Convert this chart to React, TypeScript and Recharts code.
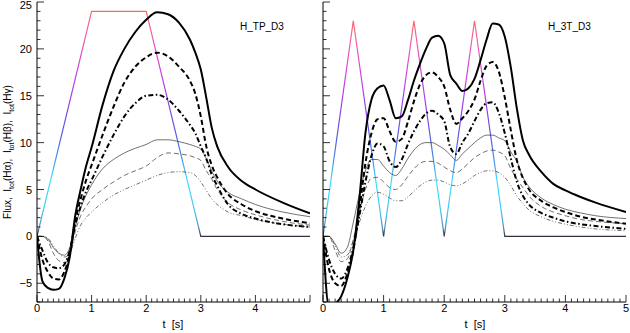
import React from 'react';
import { LineChart, Line, XAxis, YAxis } from 'recharts';

// time grid (s) and model curves
const timeLeft = [0, 0.1, 0.2, 0.3, 0.4, 0.5, 0.6, 0.7, 0.8, 0.9, 1.0, 1.2, 1.4, 1.6, 1.8, 2.0, 2.2, 2.4, 2.6, 2.8, 2.9, 3.0, 3.1, 3.2, 3.3, 3.5, 3.75, 4.0, 4.5, 5.0];
const haLeft = [0, -4.8, -5.5, -5.7, -5.6, -4.5, -2.2, 2.2, 5.0, 7.5, 9.5, 14.0, 17.6, 20.0, 21.8, 23.1, 23.9, 23.7, 22.8, 21.0, 19.6, 17.8, 14.8, 11.6, 9.6, 7.4, 5.9, 5.0, 3.6, 2.45];
const hbLeft = [0, -2.5, -3.8, -4.5, -4.6, -3.8, -1.8, 1.6, 4.0, 6.0, 7.6, 10.8, 13.8, 16.4, 18.1, 19.1, 19.6, 19.2, 18.1, 16.6, 15.2, 12.8, 9.6, 7.6, 6.3, 4.5, 3.4, 2.7, 1.9, 1.4];
const hgLeft = [0, -1.5, -2.8, -3.3, -3.4, -3.0, -1.5, 1.2, 3.2, 4.8, 6.0, 8.5, 10.8, 12.8, 14.2, 15.0, 15.1, 14.6, 13.4, 11.9, 11.0, 9.6, 8.3, 6.6, 5.4, 3.4, 2.4, 1.9, 1.3, 1.0];
const haThinLeft = [0, 0, -0.3, -1.2, -1.8, -2.0, -1.2, 1.0, 3.0, 4.4, 5.5, 7.2, 8.2, 8.9, 9.4, 9.8, 10.3, 10.3, 10.1, 9.8, 9.6, 9.3, 8.3, 7.0, 5.9, 4.7, 4.0, 3.4, 2.6, 2.1];
const hbThinLeft = [0, 0, -0.5, -1.8, -2.6, -2.8, -2.0, 0.5, 2.2, 3.2, 4.0, 5.0, 5.8, 6.5, 7.0, 7.5, 8.4, 8.9, 8.8, 8.6, 8.4, 8.1, 7.0, 6.1, 5.0, 3.6, 2.8, 2.3, 1.6, 1.2];
const hgThinLeft = [0, 0, -0.2, -1.0, -1.8, -2.2, -1.8, -0.2, 1.2, 2.0, 2.6, 3.6, 4.4, 5.0, 5.5, 6.0, 6.5, 6.8, 6.9, 6.8, 6.5, 5.8, 4.9, 4.0, 3.4, 2.6, 2.2, 1.8, 1.3, 1.0];

const timeRight = [0, 0.1, 0.2, 0.3, 0.4, 0.5, 0.6, 0.7, 0.8, 0.9, 1.0, 1.1, 1.2, 1.3, 1.4, 1.5, 1.6, 1.7, 1.8, 1.9, 2.0, 2.1, 2.2, 2.3, 2.4, 2.5, 2.6, 2.7, 2.8, 2.9, 3.0, 3.1, 3.2, 3.3, 3.4, 3.6, 3.8, 4.0, 4.25, 4.5, 5.0];
const haRight = [0, -7.6, -7.2, -6.4, -4.5, -1.5, 4.0, 11.0, 14.6, 15.8, 16.1, 14.5, 12.6, 12.8, 14.5, 16.6, 18.4, 20.0, 21.2, 21.4, 20.6, 17.2, 16.3, 15.5, 15.8, 16.8, 18.8, 21.0, 22.7, 22.6, 21.3, 18.0, 13.6, 10.2, 8.7, 6.9, 5.6, 4.9, 4.2, 3.6, 2.6];
const hbRight = [0, -3.5, -5.0, -5.3, -4.0, -1.5, 2.8, 7.8, 11.0, 12.5, 12.6, 11.2, 10.1, 10.4, 12.2, 14.4, 16.2, 17.2, 17.5, 17.0, 16.0, 13.5, 12.0, 12.6, 13.4, 14.6, 16.6, 18.2, 18.6, 17.6, 14.8, 11.3, 8.1, 6.2, 5.0, 3.8, 3.1, 2.6, 2.1, 1.8, 1.35];
const hgRight = [0, -2.5, -4.0, -4.5, -3.5, -1.2, 2.2, 5.8, 8.6, 9.9, 9.6, 8.0, 7.4, 8.2, 9.8, 11.2, 12.3, 13.1, 13.4, 13.0, 12.3, 9.5, 8.8, 10.0, 11.0, 12.3, 13.5, 14.2, 14.3, 13.2, 11.0, 8.3, 5.8, 4.3, 3.4, 2.5, 2.0, 1.6, 1.3, 1.1, 0.8];
const haThinRight = [0, 0, -0.8, -1.8, -1.2, 1.5, 4.5, 7.0, 8.2, 8.2, 7.5, 6.8, 6.5, 7.2, 8.3, 9.2, 9.8, 10.0, 10.0, 9.7, 9.3, 8.7, 8.1, 8.8, 9.4, 10.0, 10.5, 10.8, 10.8, 10.5, 10.2, 9.0, 8.0, 6.3, 5.3, 4.1, 3.4, 2.9, 2.5, 2.2, 1.9];
const hbThinRight = [0, 0, -1.5, -2.7, -2.4, -0.3, 2.6, 5.0, 6.2, 6.3, 5.8, 5.2, 5.0, 5.5, 6.4, 7.2, 7.8, 8.0, 8.0, 7.8, 7.4, 7.0, 6.8, 7.2, 7.8, 8.4, 8.8, 9.1, 9.2, 9.0, 8.6, 7.2, 6.1, 5.2, 4.3, 3.2, 2.6, 2.2, 1.8, 1.6, 1.35];
const hgThinRight = [0, 0, -1.0, -2.2, -2.0, -0.5, 1.5, 3.2, 4.3, 4.7, 4.5, 4.1, 3.8, 3.8, 4.2, 4.8, 5.4, 5.8, 6.0, 6.0, 5.8, 5.5, 5.4, 5.6, 6.0, 6.5, 6.8, 7.0, 7.0, 6.8, 6.3, 5.4, 4.3, 3.5, 2.8, 2.1, 1.6, 1.3, 1.0, 0.8, 0.6];

// input flux profiles (corner points)
const fluxLeftTime = [0, 1, 2, 3, 5];
const fluxLeftValue = [0, 24, 24, 0, 0];
const fluxRightTime = [0, 0.5, 1, 1.5, 2, 2.5, 3, 5];
const fluxRightValue = [0, 23, 0, 23, 0, 23, 0, 0];

const xMajor = [0, 1, 2, 3, 4, 5];
const yMajor = [-5, 0, 5, 10, 15, 20, 25];
const yDomain = [-7, 25];

const xTicks: number[] = [];
for (let i = 0; i < xMajor.length - 1; i++) {
  for (let k = 0; k < 10; k++) xTicks.push(+(xMajor[i] + (k * (xMajor[i + 1] - xMajor[i])) / 10).toFixed(2));
}
xTicks.push(xMajor[xMajor.length - 1]);
const yTicks: number[] = [];
for (let v = yDomain[0]; v <= yDomain[1]; v++) yTicks.push(v);

const font = '"Liberation Sans", Arial, sans-serif';
const fluxStops = [
  { o: 0, c: '#ff6464' },
  { o: 0.1, c: '#f060a8' },
  { o: 0.25, c: '#d040e0' },
  { o: 0.42, c: '#9040e8' },
  { o: 0.55, c: '#5060e0' },
  { o: 0.65, c: '#4890e8' },
  { o: 0.75, c: '#40e0ff' },
  { o: 0.88, c: '#40c8f0' },
  { o: 0.96, c: '#5090b8' },
  { o: 1, c: '#303040' },
];

const rows = (t: number[], s: number[][]) =>
  t.map((tt, i) => ({ t: tt, ha: s[0][i], hb: s[1][i], hg: s[2][i], haThin: s[3][i], hbThin: s[4][i], hgThin: s[5][i] }));
const fluxRows = (t: number[], v: number[]) => t.map((tt, i) => ({ t: tt, flux: v[i] }));

const isMajor = (v: number, majors: number[]) => majors.some((m) => Math.abs(m - v) < 1e-6);

const XTick = (p: any) => {
  const { x, y, payload, side, labels } = p;
  const v = payload.value;
  const major = isMajor(v, xMajor);
  const len = major ? 7 : 3.5;
  const dir = side === 'bottom' ? -1 : 1;
  return (
    <g>
      <line x1={x} x2={x} y1={y} y2={y + dir * len} stroke="#000" strokeWidth={0.8} />
      {side === 'bottom' && major && labels.includes(v) && (
        <text x={x} y={y + 10} textAnchor="middle" fontSize={11} fontFamily={font} fill="#000">
          {v}
        </text>
      )}
    </g>
  );
};

const YTick = (p: any) => {
  const { x, y, payload, side, showLabels } = p;
  const v = payload.value;
  const major = isMajor(v, yMajor);
  const len = major ? 7 : 3.5;
  const dir = side === 'left' ? 1 : -1;
  const label = v < 0 ? '\u2212' + Math.abs(v) : String(v);
  return (
    <g>
      <line x1={x} x2={x + dir * len} y1={y} y2={y} stroke="#000" strokeWidth={0.8} />
      {side === 'left' && major && showLabels && (
        <text x={x - 5} y={Math.max(y + 4, 9)} textAnchor="end" fontSize={11} fontFamily={font} fill="#000">
          {label}
        </text>
      )}
    </g>
  );
};

type PanelProps = {
  data: any[];
  flux: any[];
  gradId: string;
  width: number;
  yWidth: number;
  marginRight: number;
  showYLabels: boolean;
  xLabels: number[];
};

const Panel = ({ data, flux, gradId, width, yWidth, marginRight, showYLabels, xLabels }: PanelProps) => (
  <LineChart width={width} height={333} data={data} margin={{ top: 2, right: marginRight, bottom: 0, left: 0 }}>
    <defs>
      <linearGradient id={gradId} x1="0" y1="0" x2="0" y2="1">
        {fluxStops.map((s) => (
          <stop key={s.o} offset={s.o} stopColor={s.c} />
        ))}
      </linearGradient>
    </defs>
    <XAxis
      xAxisId="b"
      dataKey="t"
      type="number"
      domain={[0, 5]}
      ticks={xTicks}
      interval={0}
      allowDataOverflow
      height={31}
      tickSize={0}
      tickMargin={0}
      tickLine={false}
      axisLine={{ stroke: '#000', strokeWidth: 1 }}
      tick={(p: any) => <XTick {...p} side="bottom" labels={xLabels} />}
    />
    <XAxis
      xAxisId="t"
      dataKey="t"
      type="number"
      orientation="top"
      domain={[0, 5]}
      ticks={xTicks}
      interval={0}
      allowDataOverflow
      height={0}
      tickSize={0}
      tickMargin={0}
      tickLine={false}
      axisLine={{ stroke: '#000', strokeWidth: 1 }}
      tick={(p: any) => <XTick {...p} side="top" labels={[]} />}
    />
    <YAxis
      yAxisId="l"
      type="number"
      domain={yDomain}
      ticks={yTicks}
      interval={0}
      allowDataOverflow
      width={yWidth}
      tickSize={0}
      tickMargin={0}
      tickLine={false}
      axisLine={{ stroke: '#000', strokeWidth: 1 }}
      tick={(p: any) => <YTick {...p} side="left" showLabels={showYLabels} />}
    />
    <YAxis
      yAxisId="r"
      orientation="right"
      type="number"
      domain={yDomain}
      ticks={yTicks}
      interval={0}
      allowDataOverflow
      width={0}
      tickSize={0}
      tickMargin={0}
      tickLine={false}
      axisLine={{ stroke: '#000', strokeWidth: 1 }}
      tick={(p: any) => <YTick {...p} side="right" showLabels={false} />}
    />
    <Line xAxisId="b" yAxisId="l" data={flux} dataKey="flux" type="linear" stroke={`url(#${gradId})`} strokeWidth={1.2} dot={false} isAnimationActive={false} />
    <Line xAxisId="b" yAxisId="l" dataKey="haThin" type="monotone" stroke="#333" strokeWidth={0.7} dot={false} isAnimationActive={false} />
    <Line xAxisId="b" yAxisId="l" dataKey="hbThin" type="monotone" stroke="#333" strokeWidth={0.7} strokeDasharray="5 3" dot={false} isAnimationActive={false} />
    <Line xAxisId="b" yAxisId="l" dataKey="hgThin" type="monotone" stroke="#333" strokeWidth={0.7} strokeDasharray="4 2 1 2 1 2" dot={false} isAnimationActive={false} />
    <Line xAxisId="b" yAxisId="l" dataKey="hg" type="monotone" stroke="#000" strokeWidth={2} strokeDasharray="5 2.5 1.5 2.5" dot={false} isAnimationActive={false} />
    <Line xAxisId="b" yAxisId="l" dataKey="hb" type="monotone" stroke="#000" strokeWidth={2} strokeDasharray="5 3" dot={false} isAnimationActive={false} />
    <Line xAxisId="b" yAxisId="l" dataKey="ha" type="monotone" stroke="#000" strokeWidth={2} dot={false} isAnimationActive={false} />
  </LineChart>
);

const textStyle: React.CSSProperties = { position: 'absolute', fontFamily: font, color: '#000', whiteSpace: 'nowrap', lineHeight: 1 };
const subStyle: React.CSSProperties = { fontSize: 7 };

export default function App() {
  const leftData = rows(timeLeft, [haLeft, hbLeft, hgLeft, haThinLeft, hbThinLeft, hgThinLeft]);
  const rightData = rows(timeRight, [haRight, hbRight, hgRight, haThinRight, hbThinRight, hgThinRight]);
  return (
    <div style={{ position: 'absolute', left: 0, top: 0, width: 630, height: 333, background: '#fff', overflow: 'hidden' }}>
      <div style={{ position: 'absolute', left: 0, top: 0 }}>
        <Panel data={leftData} flux={fluxRows(fluxLeftTime, fluxLeftValue)} gradId="gL" width={312} yWidth={37} marginRight={2} showYLabels xLabels={[0, 1, 2, 3, 4]} />
      </div>
      <div style={{ position: 'absolute', left: 300, top: 0 }}>
        <Panel data={rightData} flux={fluxRows(fluxRightTime, fluxRightValue)} gradId="gR" width={330} yWidth={23} marginRight={4} showYLabels={false} xLabels={[0, 1, 2, 3, 4, 5]} />
      </div>
      <div style={{ ...textStyle, left: 240, top: 22, fontSize: 10 }}>H_TP_D3</div>
      <div style={{ ...textStyle, left: 548, top: 22, fontSize: 10 }}>H_3T_D3</div>
      <div style={{ ...textStyle, left: 173, top: 319, fontSize: 11, transform: 'translateX(-50%)' }}>t&nbsp; [s]</div>
      <div style={{ ...textStyle, left: 475, top: 319, fontSize: 11, transform: 'translateX(-50%)' }}>t&nbsp; [s]</div>
      <div style={{ ...textStyle, left: 9, top: 152, fontSize: 10, transform: 'translate(-50%, -50%) rotate(-90deg)' }}>
        Flux,&nbsp; I<sub style={subStyle}>tot</sub>(H&alpha;),&nbsp; I<sub style={subStyle}>tot</sub>(H&beta;),&nbsp; I<sub style={subStyle}>tot</sub>(H&gamma;)
      </div>
    </div>
  );
}
